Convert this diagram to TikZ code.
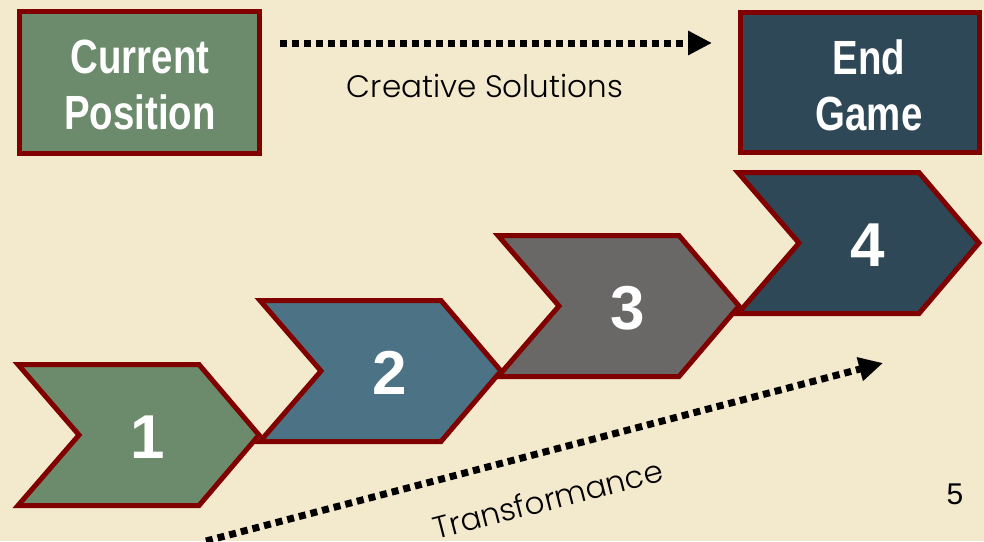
\documentclass[tikz,border=0pt]{standalone}
\usepackage{fontspec}
\setmainfont{Liberation Sans}
\newfontfamily\boxfont[FakeStretch=0.8]{Liberation Sans}
\IfFontExistsTF{Poppins Light}{\newfontfamily\gothic{Poppins Light}}{\newfontfamily\gothic{Poppins}}
\usetikzlibrary{arrows.meta}
\definecolor{bgpaper}{RGB}{243,233,205}
\definecolor{rim}{RGB}{128,0,0}
\definecolor{cgreen}{RGB}{108,138,108}
\definecolor{cteal}{RGB}{76,114,133}
\definecolor{cgray}{RGB}{106,103,103}
\definecolor{cslate}{RGB}{46,72,87}
\tikzset{
  boxshape/.style={draw=rim, line width=5pt, line join=miter},
  boxtext/.style={text=white, font=\boxfont\bfseries\fontsize{48}{56}\selectfont, align=center, inner sep=0pt},
  numtext/.style={text=white, font=\bfseries\fontsize{62}{62}\selectfont, inner sep=0pt},
  gtext/.style={text=black, font=\gothic\fontsize{31}{34}\selectfont, inner sep=0pt},
  dotarrow/.style={line width=7pt, dash pattern=on 7pt off 5pt, -{Triangle[length=24pt,width=23pt]}},
}
\begin{document}
\begin{tikzpicture}[x=1pt,y=-1pt]
\clip (0,0) rectangle (984,541);
\fill[bgpaper] (0,0) rectangle (984,541);
% top boxes
\path[boxshape, fill=cgreen] (19.5,11.5) rectangle (259.5,153.5);
\node[boxtext] (cur) at (140,84.5) {Current\\Position};
\path[boxshape, fill=cslate] (740.5,12.5) rectangle (979.5,152.5);
\node[boxtext] (end) at (869,85.5) {End\\Game};
% chevrons
\foreach \n/\xo/\yo/\col in {1/15/362/cgreen, 2/257/298/cteal, 3/495/233/cgray, 4/735/170/cslate}{
  \path[boxshape, fill=\col]
    (\xo+3,\yo+2.5) -- (\xo+184,\yo+2.5) -- (\xo+244,\yo+73) -- (\xo+184,\yo+143.5)
    -- (\xo+3,\yo+143.5) -- (\xo+64,\yo+73) -- cycle;
  \node[numtext] (n\n) at (\xo+133,\yo+75) {\n};
}
% arrows
\coordinate (ta) at (280,43);
\coordinate (tb) at (712,43);
\draw[dotarrow] (ta) -- (tb);
\node[gtext] (cs) at (485,86) {Creative Solutions};
\coordinate (ba) at (206,541);
\coordinate (bb) at (883,363);
\draw[dotarrow] (ba) -- (bb);
\node[gtext, rotate=14.5] (tr) at (548,499) {Transformance};
\node[font=\fontsize{30}{30}\selectfont, inner sep=0pt] (pg) at (955,494) {5};
\end{tikzpicture}
\end{document}
